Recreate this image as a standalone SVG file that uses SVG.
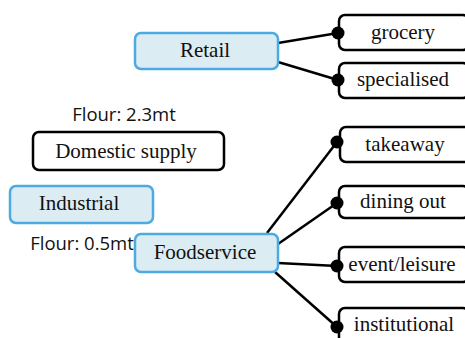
<svg xmlns="http://www.w3.org/2000/svg" width="465" height="338" viewBox="0 0 465 338">
  <style>
    .cat rect { fill: #dbecf3; stroke: #4eaae2; stroke-width: 2.5; }
    .plain rect { fill: #ffffff; stroke: #000000; stroke-width: 2.5; }
    .leaf rect { fill: #ffffff; stroke: #000000; stroke-width: 2.5; }
    .lbl { font-family: "Liberation Serif", "Times New Roman", serif; font-size: 21px; fill: #111; text-anchor: middle; }
    .note { font-family: "Open Sans", "Lato", sans-serif; font-size: 18.5px; fill: #111; text-anchor: middle; }
    .edge line { stroke: #000; stroke-width: 2.5; }
    .edge circle { fill: #000; }
  </style>
  <rect width="465" height="338" fill="#ffffff"/>

  <!-- annotations -->
  <text class="note" x="124" y="121">Flour: 2.3mt</text>
  <text class="note" x="82" y="250">Flour: 0.5mt</text>

  <!-- connectors -->
  <g id="connectors" class="edge">
    <line x1="278" y1="43" x2="338" y2="33"/>
    <line x1="278" y1="62" x2="338" y2="80"/>
    <line x1="267" y1="233" x2="337" y2="142"/>
    <line x1="278" y1="244" x2="337" y2="203"/>
    <line x1="278" y1="263" x2="337" y2="266"/>
    <line x1="275" y1="272" x2="337" y2="327"/>
  </g>

  <!-- category nodes -->
  <g id="retail" class="cat">
    <rect x="135" y="33" width="143" height="36" rx="6"/>
    <text class="lbl" x="205" y="57">Retail</text>
  </g>
  <g id="domestic-supply" class="plain">
    <rect x="33" y="132" width="191" height="38" rx="6"/>
    <text class="lbl" x="126" y="158">Domestic supply</text>
  </g>
  <g id="industrial" class="cat">
    <rect x="10" y="186" width="143" height="37" rx="6"/>
    <text class="lbl" x="79" y="210">Industrial</text>
  </g>
  <g id="foodservice" class="cat">
    <rect x="135" y="234" width="143" height="38" rx="6"/>
    <text class="lbl" x="205" y="259">Foodservice</text>
  </g>

  <!-- channel nodes -->
  <g id="grocery" class="leaf">
    <rect x="339" y="15" width="130" height="35" rx="6"/>
    <text class="lbl" x="403" y="39">grocery</text>
  </g>
  <g id="specialised" class="leaf">
    <rect x="339" y="63" width="130" height="35" rx="6"/>
    <text class="lbl" x="403" y="86">specialised</text>
  </g>
  <g id="takeaway" class="leaf">
    <rect x="340" y="127" width="130" height="35" rx="6"/>
    <text class="lbl" x="405" y="151">takeaway</text>
  </g>
  <g id="dining-out" class="leaf">
    <rect x="339" y="186" width="130" height="32" rx="6"/>
    <text class="lbl" x="403" y="208">dining out</text>
  </g>
  <g id="event-leisure" class="leaf">
    <rect x="339" y="247" width="130" height="35" rx="6"/>
    <text class="lbl" x="402" y="271">event/leisure</text>
  </g>
  <g id="institutional" class="leaf">
    <rect x="339" y="308" width="130" height="40" rx="6"/>
    <text class="lbl" x="404" y="331">institutional</text>
  </g>

  <!-- connector end dots -->
  <g id="connector-dots" class="edge">
    <circle cx="338" cy="33" r="6.5"/>
    <circle cx="338" cy="80" r="6.5"/>
    <circle cx="337" cy="142" r="6.5"/>
    <circle cx="337" cy="203" r="6.5"/>
    <circle cx="337" cy="266" r="6.5"/>
    <circle cx="337" cy="327" r="6.5"/>
  </g>
</svg>
